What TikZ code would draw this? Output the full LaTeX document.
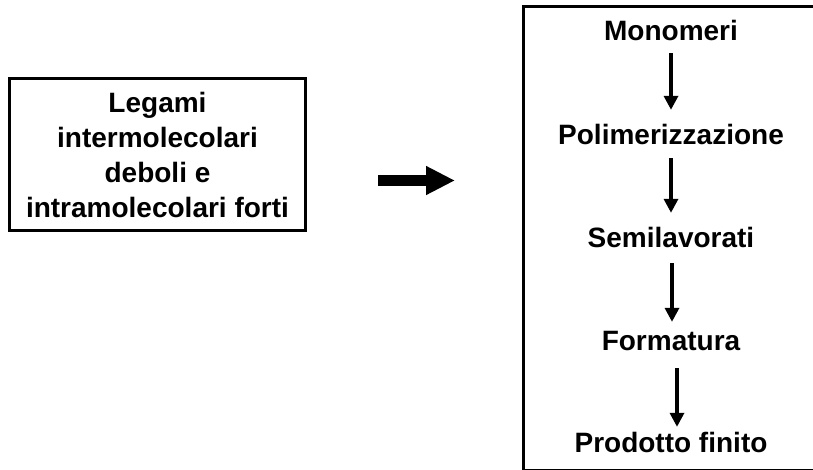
\documentclass[tikz,border=0pt]{standalone}
\usepackage{fontspec}
\setmainfont{Liberation Sans}
\usetikzlibrary{arrows.meta}
\begin{document}
\begin{tikzpicture}[x=1pt,y=-1pt,
  txt/.style={font=\fontsize{28}{35}\selectfont\bfseries},
  lbl/.style={txt, inner sep=0pt, text height=20pt, text depth=6pt, anchor=base},
  flow/.style={line width=3.3pt, -{Triangle[length=14pt,width=14pt]}},
  frame/.style={draw, line width=3pt, inner sep=0pt}]
\useasboundingbox (0,0) rectangle (813,469);
\fill[white] (0,0) rectangle (813,469);
% left box
\node[frame, txt, align=center, minimum width=296.5pt, minimum height=152pt] (src) at (157.5,154.5)
  {Legami\\intermolecolari\\deboli e\\intramolecolari forti};
% right box (cropped on the right and bottom)
\node[frame, anchor=north west, minimum width=330pt, minimum height=464pt] (chain) at (522,5) {};
% process steps
\node[lbl] (m1) at (671,40) {Monomeri};
\node[lbl] (m2) at (671,144) {Polimerizzazione};
\node[lbl] (m3) at (671,247) {Semilavorati};
\node[lbl] (m4) at (671,350) {Formatura};
\node[lbl] (m5) at (671,452) {Prodotto finito};
\draw[flow, shorten <=7pt, shorten >=14pt] (m1.south) -- (m1.south |- m2.north);
\draw[flow, shorten <=8pt, shorten >=14pt] (m2.south) -- (m2.south |- m3.north);
\draw[flow, shorten <=10pt, shorten >=8pt] ([xshift=1pt]m3.south) -- ([xshift=1pt]m3.south |- m4.north);
\draw[flow, shorten <=12pt, shorten >=5pt] ([xshift=6pt]m4.south) -- ([xshift=6pt]m4.south |- m5.north);
% big arrow
\coordinate (bs) at (378,180.5);
\coordinate (be) at (455,180.5);
\draw[line width=11pt, -{Triangle[length=29pt,width=27pt]}] (bs) -- (be);
\end{tikzpicture}
\end{document}
